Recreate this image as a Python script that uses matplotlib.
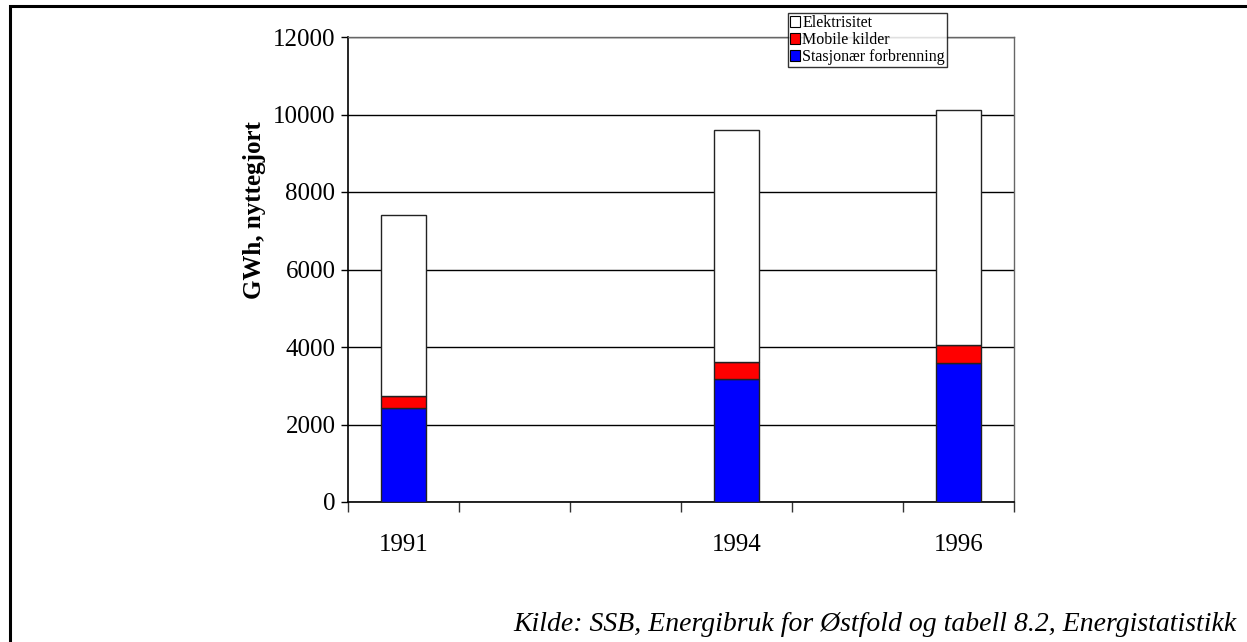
import matplotlib
matplotlib.use("Agg")
import matplotlib.pyplot as plt
from matplotlib.patches import Rectangle, Patch

plt.rcParams['font.family'] = ['Liberation Serif', 'DejaVu Serif']

years = ["1991", "1992", "1993", "1994", "1995", "1996"]
shown_years = ["1991", "1994", "1996"]
series_names = ["Stasjonær forbrenning", "Mobile kilder", "Elektrisitet"]
stasjonaer = [2430, 3175, 3595]
mobile = [300, 450, 450]
elektrisitet = [4685, 5985, 6065]
series_colors = ["#0000ff", "#ff0000", "#ffffff"]
y_ticks = [0, 2000, 4000, 6000, 8000, 10000, 12000]
source_text = "Kilde: SSB, Energibruk for Østfold og tabell 8.2, Energistatistikk"

W, H = 1247, 642
fig = plt.figure(figsize=(W / 100, H / 100), dpi=100)
fig.patch.set_facecolor("white")

ax = fig.add_axes([348 / W, 1 - 502 / H, (1014 - 348) / W, (502 - 37) / H])

pos = [years.index(y) for y in shown_years]
bar_w = 0.40
bottom = [0, 0, 0]
for name, vals, col in zip(series_names, [stasjonaer, mobile, elektrisitet], series_colors):
    ax.bar(pos, vals, width=bar_w, bottom=bottom, color=col,
           edgecolor="#222222", linewidth=1.0, zorder=3)
    bottom = [a + v for a, v in zip(bottom, vals)]

ax.set_xlim(-0.5, len(years) - 0.5)
ax.set_ylim(0, 12000)
ax.set_yticks(y_ticks)
ax.set_yticklabels([str(t) for t in y_ticks], fontsize=18)
ax.yaxis.grid(True, color="black", linewidth=1.0, zorder=0)
ax.set_axisbelow(True)

# category boundaries carry the tick marks, centres carry the labels
ax.set_xticks([i - 0.5 for i in range(len(years) + 1)])
ax.set_xticklabels([])
ax.set_xticks(pos, minor=True)
ax.set_xticklabels(shown_years, minor=True, fontsize=18)
ax.tick_params(axis="x", which="major", length=7, width=1, direction="out", color="#333333")
ax.tick_params(axis="x", which="minor", length=0, pad=23)
ax.tick_params(axis="y", length=5, width=1, direction="out", pad=4)

for side in ["left", "bottom"]:
    ax.spines[side].set_color("black")
    ax.spines[side].set_linewidth(1.2)
for side in ["top", "right"]:
    ax.spines[side].set_color("#666666")
    ax.spines[side].set_linewidth(1.0)

fig.text(255 / W, 1 - 210 / H, "GWh, nyttegjort", rotation=90, ha="center",
         va="center", fontsize=18, fontweight="bold")

leg_handles = [Patch(facecolor=c, edgecolor="black", linewidth=0.8)
               for c in series_colors[::-1]]
leg = fig.legend(leg_handles, series_names[::-1], loc="upper left",
                 bbox_to_anchor=(788 / W, 1 - 13 / H), fontsize=11.5,
                 frameon=True, fancybox=False, edgecolor="black",
                 handlelength=0.6, handleheight=0.7, handletextpad=0.15,
                 borderpad=0.15, labelspacing=0.05, borderaxespad=0)
leg.get_frame().set_linewidth(1.0)
leg.set_zorder(10)

fig.text(1237 / W, 1 - 631 / H, source_text, ha="right", va="baseline",
         fontsize=20, fontstyle="italic")

# outer frame
fig.patches.append(Rectangle((10 / W, -0.1), 1.2, 1 - 6 / H + 0.1,
                             transform=fig.transFigure, fill=False,
                             edgecolor="black", linewidth=2.2, zorder=0))

fig.savefig("out.png", dpi=100)
